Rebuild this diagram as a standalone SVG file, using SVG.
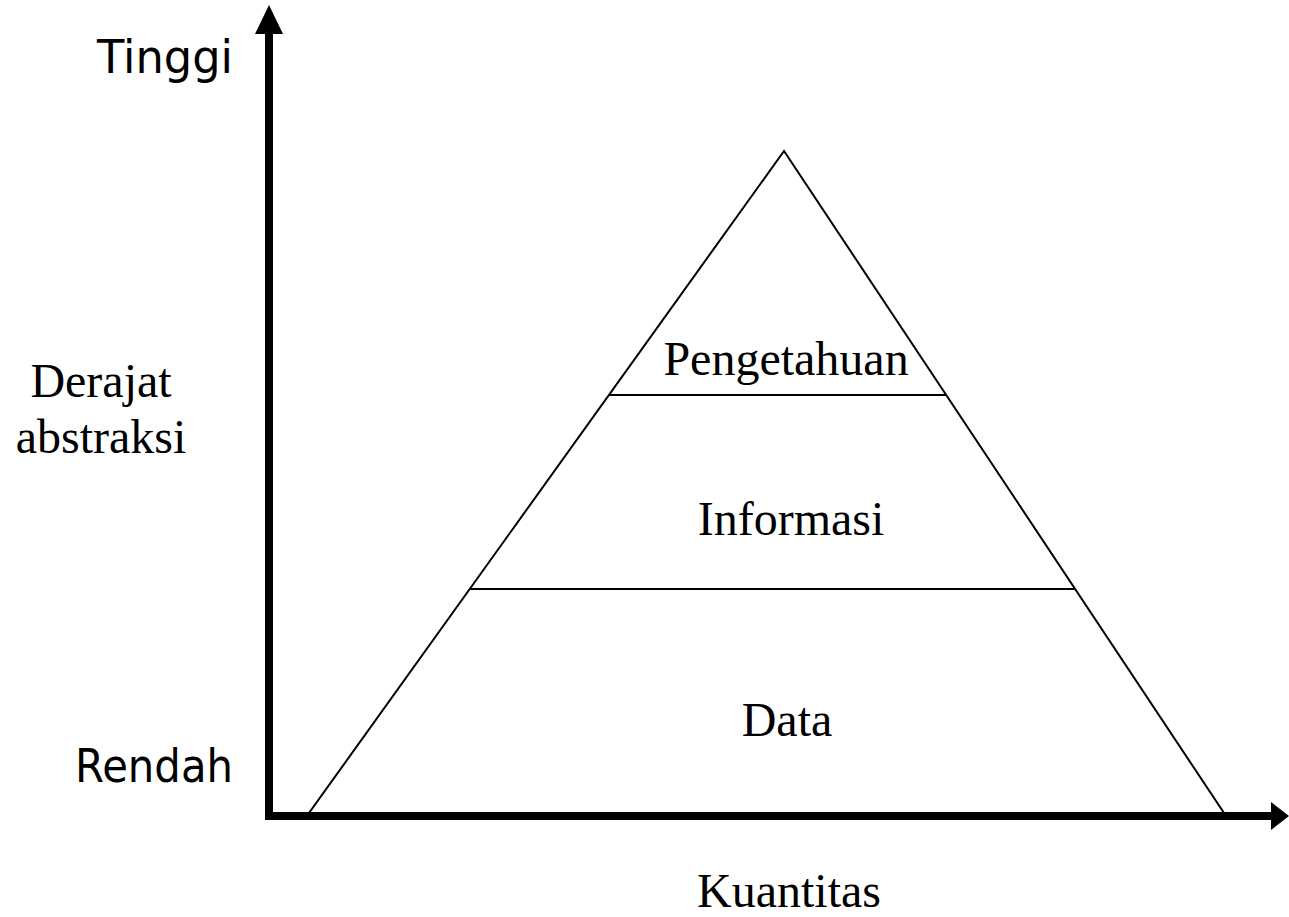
<svg xmlns="http://www.w3.org/2000/svg" width="1289" height="917" viewBox="0 0 1289 917">
<style>
.serif{font-family:"Liberation Serif","Times New Roman",serif;font-size:48px;fill:#000;text-anchor:middle}
.hand{font-family:"DejaVu Sans","Liberation Sans",sans-serif;font-size:46px;fill:#000}
.thin{stroke:#000;stroke-width:2;fill:none}
.axis{stroke:#000;stroke-width:8;fill:none}
</style>
<rect width="1289" height="917" fill="#fff"/>
<g id="connectors">
<polyline class="axis" points="269,30 269,816 1274,816"/>
<polygon points="269,5 255,34 283,34" fill="#000"/>
<polygon points="1289,816 1271,802 1271,830" fill="#000"/>
</g>
<g id="pyramid">
<polygon class="thin" points="784,151 309,813 1224,813"/>
<line class="thin" x1="609" y1="395" x2="946" y2="395"/>
<line class="thin" x1="470" y1="589" x2="1076" y2="589"/>
</g>
<g id="node-pengetahuan"><text class="serif" x="786" y="375">Pengetahuan</text></g>
<g id="node-informasi"><text class="serif" x="791" y="535">Informasi</text></g>
<g id="node-data"><text class="serif" x="787" y="736">Data</text></g>
<g id="label-y"><text class="serif" x="101" y="397">Derajat</text><text class="serif" x="101" y="453">abstraksi</text></g>
<g id="label-x"><text class="serif" x="789" y="907">Kuantitas</text></g>
<g id="label-tinggi"><text class="hand" x="97" y="73" textLength="136" lengthAdjust="spacingAndGlyphs">Tinggi</text></g>
<g id="label-rendah"><text class="hand" x="75" y="782" textLength="158" lengthAdjust="spacingAndGlyphs">Rendah</text></g>
</svg>
